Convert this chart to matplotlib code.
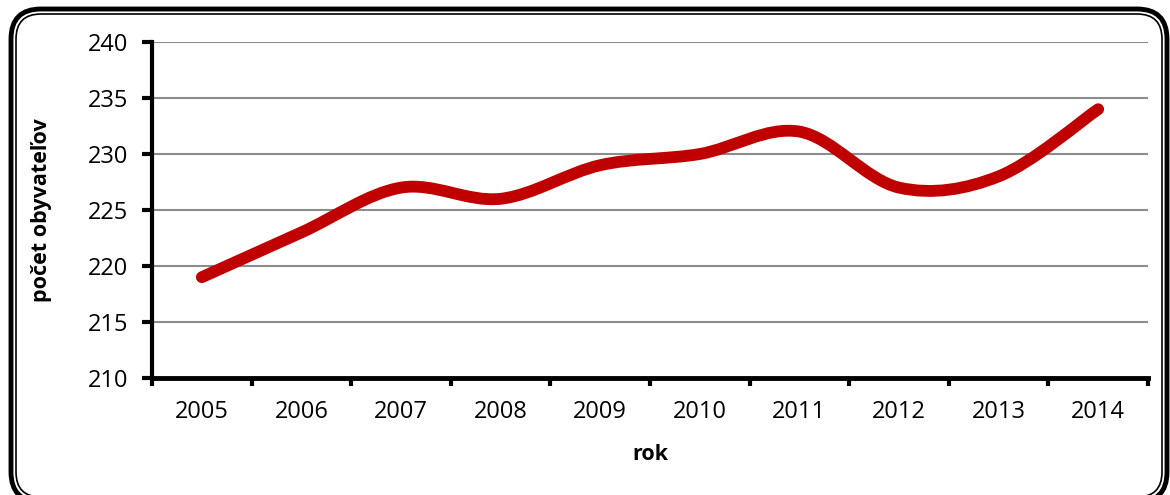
import numpy as np
import matplotlib.pyplot as plt
from matplotlib.path import Path
from matplotlib.patches import PathPatch, FancyBboxPatch

# ---------- data ----------
years = ["2005", "2006", "2007", "2008", "2009", "2010", "2011", "2012", "2013", "2014"]
population = [219, 223, 227, 226, 229, 230, 232, 227, 228, 234]
y_ticks = [210, 215, 220, 225, 230, 235, 240]

plt.rcParams['font.family'] = ['Open Sans', 'DejaVu Sans']

W, H = 1170, 495
fig = plt.figure(figsize=(W / 100, H / 100), dpi=100)

# overlay in pixel units for the rounded double frame (y measured from bottom)
frame_ax = fig.add_axes([0, 0, 1, 1], zorder=0)
frame_ax.set_xlim(0, W)
frame_ax.set_ylim(0, H)
frame_ax.axis("off")
frame_ax.add_patch(FancyBboxPatch((11, H - 502), 1156, 493,
                                  boxstyle="round,pad=0,rounding_size=30",
                                  fill=False, ec="black", lw=3.5))
frame_ax.add_patch(FancyBboxPatch((16, H - 497), 1146, 483,
                                  boxstyle="round,pad=0,rounding_size=25",
                                  fill=False, ec="black", lw=1.2))

ax = fig.add_axes([152 / W, 1 - 378 / H, (1148 - 152) / W, (378 - 42) / H], zorder=1)
ax.patch.set_alpha(0)


# Excel-like smoothed line (cardinal spline -> cubic bezier)
def smooth_path(xs, ys):
    pts = np.column_stack([xs, ys]).astype(float)
    verts = [pts[0]]
    codes = [Path.MOVETO]
    n = len(pts)
    for i in range(n - 1):
        p0 = pts[i - 1] if i > 0 else pts[i]
        p1 = pts[i]
        p2 = pts[i + 1]
        p3 = pts[i + 2] if i + 2 < n else pts[i + 1]
        c1 = p1 + (p2 - p0) / 6.0
        c2 = p2 - (p3 - p1) / 6.0
        verts += [c1, c2, p2]
        codes += [Path.CURVE4] * 3
    return Path(verts, codes)


x = np.arange(len(years))
path = smooth_path(x, population)
ax.add_patch(PathPatch(path, fill=False, edgecolor="#C00000", lw=8.5,
                       capstyle="round", joinstyle="round", zorder=3))

ax.set_xlim(-0.5, len(years) - 0.5)
ax.set_ylim(210, 240)
ax.set_yticks(y_ticks)
ax.set_xticks(np.arange(len(years) + 1) - 0.5)
ax.set_xticklabels([])
ax.set_xticks(x, minor=True)
ax.set_xticklabels(years, minor=True)
ax.tick_params(axis="x", which="minor", length=0, pad=16, labelsize=17)
ax.tick_params(axis="x", which="major", length=6, width=3, direction="out")
ax.tick_params(axis="y", length=7, width=3, direction="out", pad=10, labelsize=17)

ax.grid(axis="y", color="#8c8c8c", lw=1.5)
ax.set_axisbelow(True)
for s in ["top", "right"]:
    ax.spines[s].set_visible(False)
ax.spines["left"].set_linewidth(3)
ax.spines["bottom"].set_linewidth(3.5)
ax.spines["left"].set_zorder(4)
ax.spines["bottom"].set_zorder(4)

ax.set_ylabel("počet obyvateľov", fontsize=15.5, fontweight="bold", labelpad=26)
ax.set_xlabel("rok", fontsize=15.5, fontweight="bold", labelpad=14)

fig.savefig("out.png", dpi=100)
